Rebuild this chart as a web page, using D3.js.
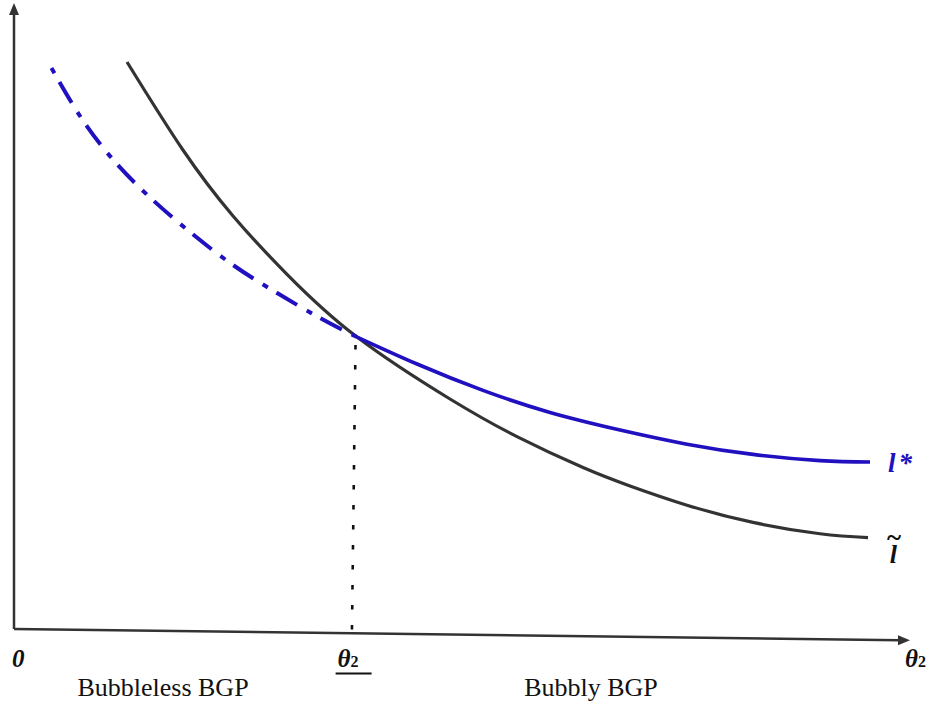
<!DOCTYPE html>
<html>
<head>
<meta charset="utf-8">
<script src="https://cdn.jsdelivr.net/npm/d3@7"></script>
<style>
  html, body { margin: 0; padding: 0; background: #fff; }
  svg { display: block; }
</style>
</head>
<body>
<svg id="chart" width="930" height="706"></svg>
<script>
// ---- data (abstract units) ----
const lTildeX = [1.264, 1.890, 2.450, 3.054, 3.837, 4.877, 5.626, 6.365, 6.890, 7.528, 8.266, 9.016, 9.553];
const lTildeY = [9.087, 7.676, 6.619, 5.684, 4.679, 3.686, 3.083, 2.587, 2.292, 1.984, 1.708, 1.526, 1.465];

const lStarDashX = [0.419, 0.749, 1.102, 1.510, 1.969, 2.450, 2.942, 3.423, 3.837];
const lStarDashY = [8.990, 8.197, 7.532, 6.931, 6.362, 5.833, 5.385, 4.984, 4.679];

const lStarSolidX = [3.837, 4.508, 5.246, 5.996, 6.779, 7.528, 8.266, 9.016, 9.575];
const lStarSolidY = [4.679, 4.247, 3.824, 3.470, 3.189, 2.962, 2.798, 2.699, 2.676];

const theta2Bar = 3.81;           // threshold position
const xAxisMax = 10;              // end of horizontal axis
const yAxisMax = 10;              // end of vertical axis
const xAxisTilt = -0.18;          // axis drawn slightly tilted in the original

const xLabels = ["0", "θ", "θ"];
const regionLabels = ["Bubbleless BGP", "Bubbly BGP"];
const curveLabels = ["l*", "l"];

// ---- scales ----
const x = d3.scaleLinear().domain([0, xAxisMax]).range([14, 908]);
const y = d3.scaleLinear().domain([0, yAxisMax]).range([629, 5]);

const svg = d3.select("#chart");
const axisColor = "#333333";
const blue = "#2010bf";

const zip = (xs, ys) => xs.map((v, i) => [v, ys[i]]);
const line = d3.line().x(d => x(d[0])).y(d => y(d[1])).curve(d3.curveNatural);

// ---- axes ----
svg.append("line")
  .attr("x1", x(0)).attr("y1", y(0))
  .attr("x2", x(0)).attr("y2", y(yAxisMax) + 8)
  .attr("stroke", axisColor).attr("stroke-width", 2.5);
svg.append("path")
  .attr("d", `M${x(0)},${y(yAxisMax) - 2} L${x(0) - 5},${y(yAxisMax) + 10} L${x(0) + 5},${y(yAxisMax) + 10} Z`)
  .attr("fill", axisColor);

const xe = x(xAxisMax), ye = y(xAxisTilt);
svg.append("line")
  .attr("x1", x(0)).attr("y1", y(0))
  .attr("x2", xe - 8).attr("y2", ye - 0.1)
  .attr("stroke", axisColor).attr("stroke-width", 2.5);
svg.append("path")
  .attr("d", `M${xe + 2},${ye} L${xe - 10},${ye - 5} L${xe - 10},${ye + 5} Z`)
  .attr("fill", axisColor);

// ---- dotted threshold line ----
svg.append("line")
  .attr("x1", x(theta2Bar + 0.01)).attr("y1", y(4.55))
  .attr("x2", x(theta2Bar - 0.03)).attr("y2", y(0) + 3)
  .attr("stroke", "#111").attr("stroke-width", 2.6)
  .attr("stroke-dasharray", "4.5,15.5");

// ---- curves ----
svg.append("path")
  .attr("d", line(zip(lTildeX, lTildeY)))
  .attr("fill", "none").attr("stroke", "#333").attr("stroke-width", 3.2);

svg.append("path")
  .attr("d", line(zip(lStarDashX, lStarDashY)))
  .attr("fill", "none").attr("stroke", blue).attr("stroke-width", 4)
  .attr("stroke-dasharray", "6,10,24,11");

svg.append("path")
  .attr("d", line(zip(lStarSolidX, lStarSolidY)))
  .attr("fill", "none").attr("stroke", blue).attr("stroke-width", 3.6);

// ---- labels ----
const serif = "'Liberation Serif', 'Times New Roman', serif";

svg.append("text").attr("x", 12).attr("y", 667)
  .attr("font-family", serif).attr("font-size", 25)
  .attr("font-weight", "bold").attr("font-style", "italic")
  .attr("fill", "#111").text(xLabels[0]);

function theta(xp, yp) {
  const t = svg.append("text").attr("x", xp).attr("y", yp)
    .attr("font-family", serif).attr("font-size", 25)
    .attr("font-weight", "bold").attr("font-style", "italic").attr("fill", "#111");
  t.append("tspan").text("θ");
  t.append("tspan").attr("font-size", 16).attr("font-style", "normal").text("2");
  return t;
}
theta(x(theta2Bar) - 17, 667);
svg.append("line")
  .attr("x1", x(theta2Bar) - 19).attr("x2", x(theta2Bar) + 17)
  .attr("y1", 673.5).attr("y2", 673.5)
  .attr("stroke", "#111").attr("stroke-width", 2.2);
theta(xe - 3, 667);

svg.append("text").attr("x", 163).attr("y", 696).attr("text-anchor", "middle")
  .attr("font-family", serif).attr("font-size", 26).attr("fill", "#111")
  .text(regionLabels[0]);
svg.append("text").attr("x", 591).attr("y", 696).attr("text-anchor", "middle")
  .attr("font-family", serif).attr("font-size", 26).attr("fill", "#111")
  .text(regionLabels[1]);

svg.append("text").attr("x", 888).attr("y", 472)
  .attr("font-family", serif).attr("font-size", 27)
  .attr("font-weight", "bold").attr("font-style", "italic")
  .attr("fill", blue).attr("letter-spacing", 3).text(curveLabels[0]);

// l with a tilde placed above it (one text element)
const lt = svg.append("text").attr("x", 887).attr("y", 563)
  .attr("font-family", serif).attr("font-size", 26)
  .attr("font-weight", "bold").attr("font-style", "italic")
  .attr("fill", "#111");
lt.append("tspan").text(curveLabels[1]);
lt.append("tspan").attr("dx", -10).attr("dy", -17)
  .attr("font-size", 27).attr("font-style", "normal").text("~");
</script>
</body>
</html>
